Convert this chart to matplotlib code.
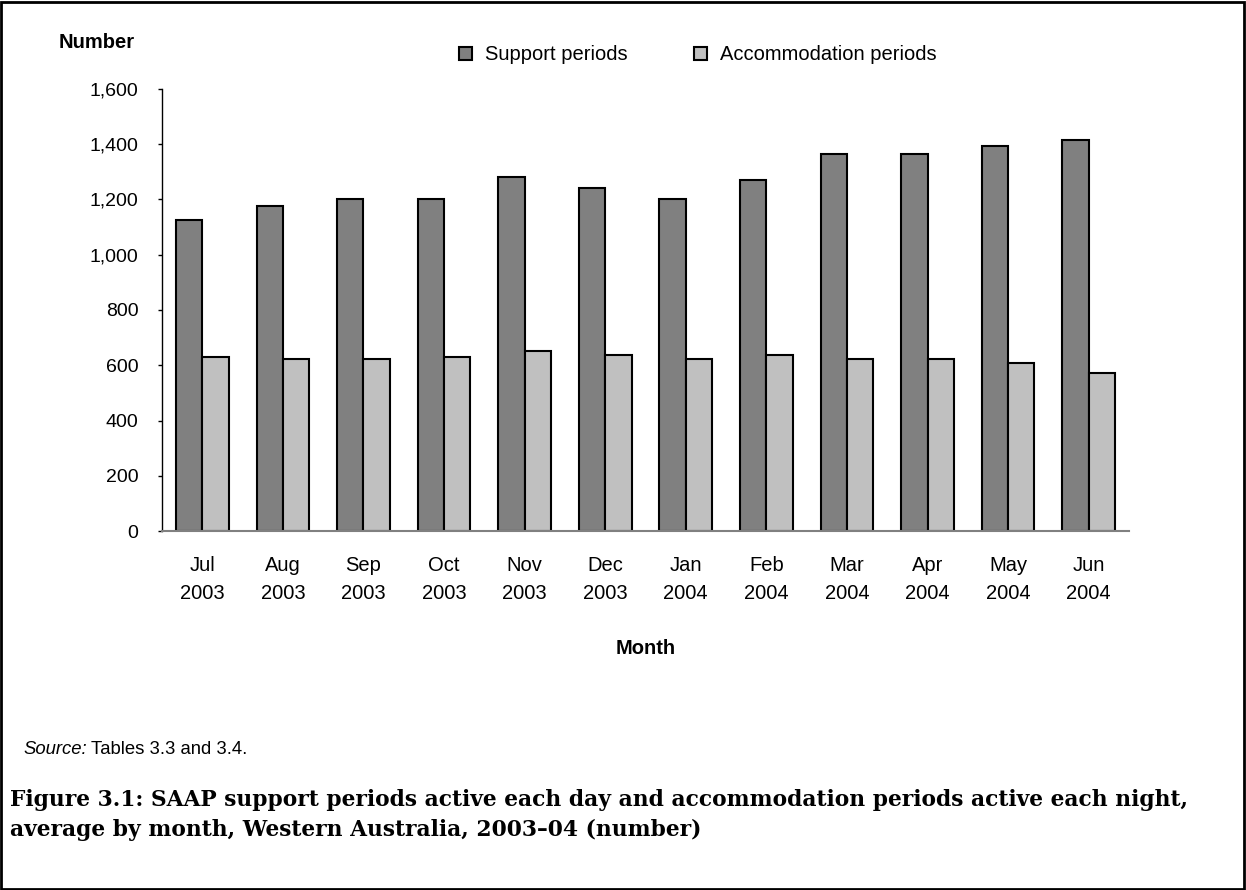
import numpy as np
import matplotlib.pyplot as plt
from matplotlib.patches import Rectangle

months = ['Jul\n2003', 'Aug\n2003', 'Sep\n2003', 'Oct\n2003', 'Nov\n2003', 'Dec\n2003',
          'Jan\n2004', 'Feb\n2004', 'Mar\n2004', 'Apr\n2004', 'May\n2004', 'Jun\n2004']
support = [1125, 1175, 1203, 1203, 1283, 1240, 1203, 1269, 1363, 1363, 1392, 1414]
accommodation = [630, 623, 623, 630, 653, 638, 623, 638, 623, 623, 609, 572]

plt.rcParams['font.family'] = ['Liberation Sans', 'DejaVu Sans']

fig = plt.figure(figsize=(12.46, 8.90), dpi=100)
W, H = 1246, 890
ax = fig.add_axes([162 / W, 1 - 531 / H, (1129 - 162) / W, (531 - 89) / H])

x = np.arange(len(months))
w = 0.327
ax.bar(x - w / 2, support, w, color='#808080', edgecolor='black', linewidth=1.5, label='Support periods')
ax.bar(x + w / 2, accommodation, w, color='#c0c0c0', edgecolor='black', linewidth=1.5, label='Accommodation periods')

ax.set_xlim(-0.5, len(months) - 0.5)
ax.set_ylim(0, 1600)
ax.set_yticks(range(0, 1601, 200))
ax.set_yticklabels([f'{v:,}' for v in range(0, 1601, 200)], fontsize=14)
ax.set_xticks(x)
ax.set_xticklabels(months, fontsize=14.5, linespacing=1.6)
ax.tick_params(axis='x', length=0, pad=18)
ax.tick_params(axis='y', length=3, width=1, pad=14)
for s in ['top', 'right']:
    ax.spines[s].set_visible(False)
ax.spines['left'].set_linewidth(1)
ax.spines['bottom'].set_color('#808080')
ax.spines['bottom'].set_linewidth(1.5)

fig.text(59 / W, 1 - 42 / H, 'Number', fontsize=14.5, fontweight='bold', va='center')
ax.legend(loc='center', bbox_to_anchor=((698 - 162) / (1129 - 162), (531 - 55) / (531 - 89)),
          ncol=2, frameon=False, fontsize=14.5, handlelength=0.65, handleheight=0.65,
          columnspacing=3.3, handletextpad=0.65)
fig.text((1129 + 162) / 2 / W, 1 - 648 / H, 'Month', fontsize=14.5, fontweight='bold',
         ha='center', va='center')
fig.text(23 / W, 1 - 750 / H, 'Source:', fontsize=13.3, style='italic', va='center')
fig.text(91 / W, 1 - 750 / H, 'Tables 3.3 and 3.4.', fontsize=13.3, va='center')

cap = ('Figure 3.1: SAAP support periods active each day and accommodation periods active each night,\n'
       'average by month, Western Australia, 2003\u201304 (number)')
fig.text(10 / W, 1 - 815 / H, cap, fontsize=15.7, fontweight='bold', va='center',
         family=['DejaVu Serif'], linespacing=1.45)

fig.patches.append(Rectangle((0.001, 0.001), 0.997, 0.997, transform=fig.transFigure,
                             fill=False, edgecolor='black', linewidth=2))

fig.savefig('out.png', dpi=100)
